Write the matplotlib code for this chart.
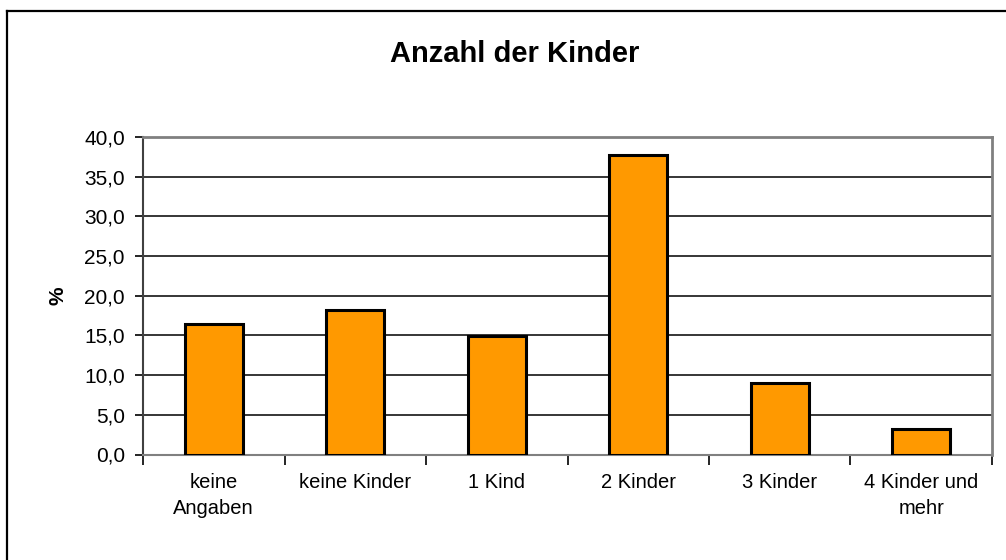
import matplotlib.pyplot as plt
from matplotlib.lines import Line2D
from matplotlib.ticker import FixedLocator, FuncFormatter

categories = ["keine\nAngaben", "keine Kinder", "1 Kind", "2 Kinder", "3 Kinder", "4 Kinder und\nmehr"]
values = [16.4, 18.2, 14.9, 37.7, 9.0, 3.2]
yticks = [0, 5, 10, 15, 20, 25, 30, 35, 40]

plt.rcParams['font.family'] = ['Liberation Sans', 'DejaVu Sans']

fig = plt.figure(figsize=(10.06, 5.6), dpi=100)
fig.patch.set_facecolor("white")

# outer chart frame (only left and top visible in the reference)
fig.add_artist(Line2D([7 / 1006, 7 / 1006], [0, 1 - 11 / 560], transform=fig.transFigure, color="black", lw=1.6))
fig.add_artist(Line2D([7 / 1006, 1], [1 - 11 / 560, 1 - 11 / 560], transform=fig.transFigure, color="black", lw=1.6))

ax = fig.add_axes([143 / 1006, 1 - 454.5 / 560, (992 - 143) / 1006, (454.5 - 137) / 560])

x = list(range(len(categories)))
ax.bar(x, values, width=0.41, color="#FF9900", edgecolor="black", linewidth=2.2, zorder=3)

ax.set_xlim(-0.5, len(categories) - 0.5)
ax.set_ylim(0, 40)
ax.set_yticks(yticks)
ax.yaxis.set_major_formatter(FuncFormatter(lambda v, p: f"{v:.1f}".replace(".", ",")))
ax.grid(axis="y", color="black", linewidth=1.1, zorder=1)

# category labels centred, ticks at the category boundaries
ax.set_xticks(x)
ax.set_xticklabels(categories, fontsize=14.5, linespacing=1.5, va="top")
ax.tick_params(axis="x", which="major", length=0, pad=13)
ax.xaxis.set_minor_locator(FixedLocator([i - 0.5 for i in range(len(categories) + 1)]))
ax.tick_params(axis="x", which="minor", length=7, width=1.2, color="black", direction="out")
ax.tick_params(axis="y", length=6, width=1.2, labelsize=15, pad=7, color="black")

for side in ["top", "right"]:
    ax.spines[side].set_color("#808080")
    ax.spines[side].set_linewidth(2)
ax.spines["bottom"].set_color("#808080")
ax.spines["bottom"].set_linewidth(1.5)
ax.spines["left"].set_color("#404040")
ax.spines["left"].set_linewidth(1.5)

ax.set_ylabel("%", fontsize=15, fontweight="bold", labelpad=12)
fig.text(515 / 1006, 1 - 54 / 560, "Anzahl der Kinder", ha="center", va="center",
         fontsize=21, fontweight="bold")

fig.savefig("out.png", dpi=100, facecolor="white")
